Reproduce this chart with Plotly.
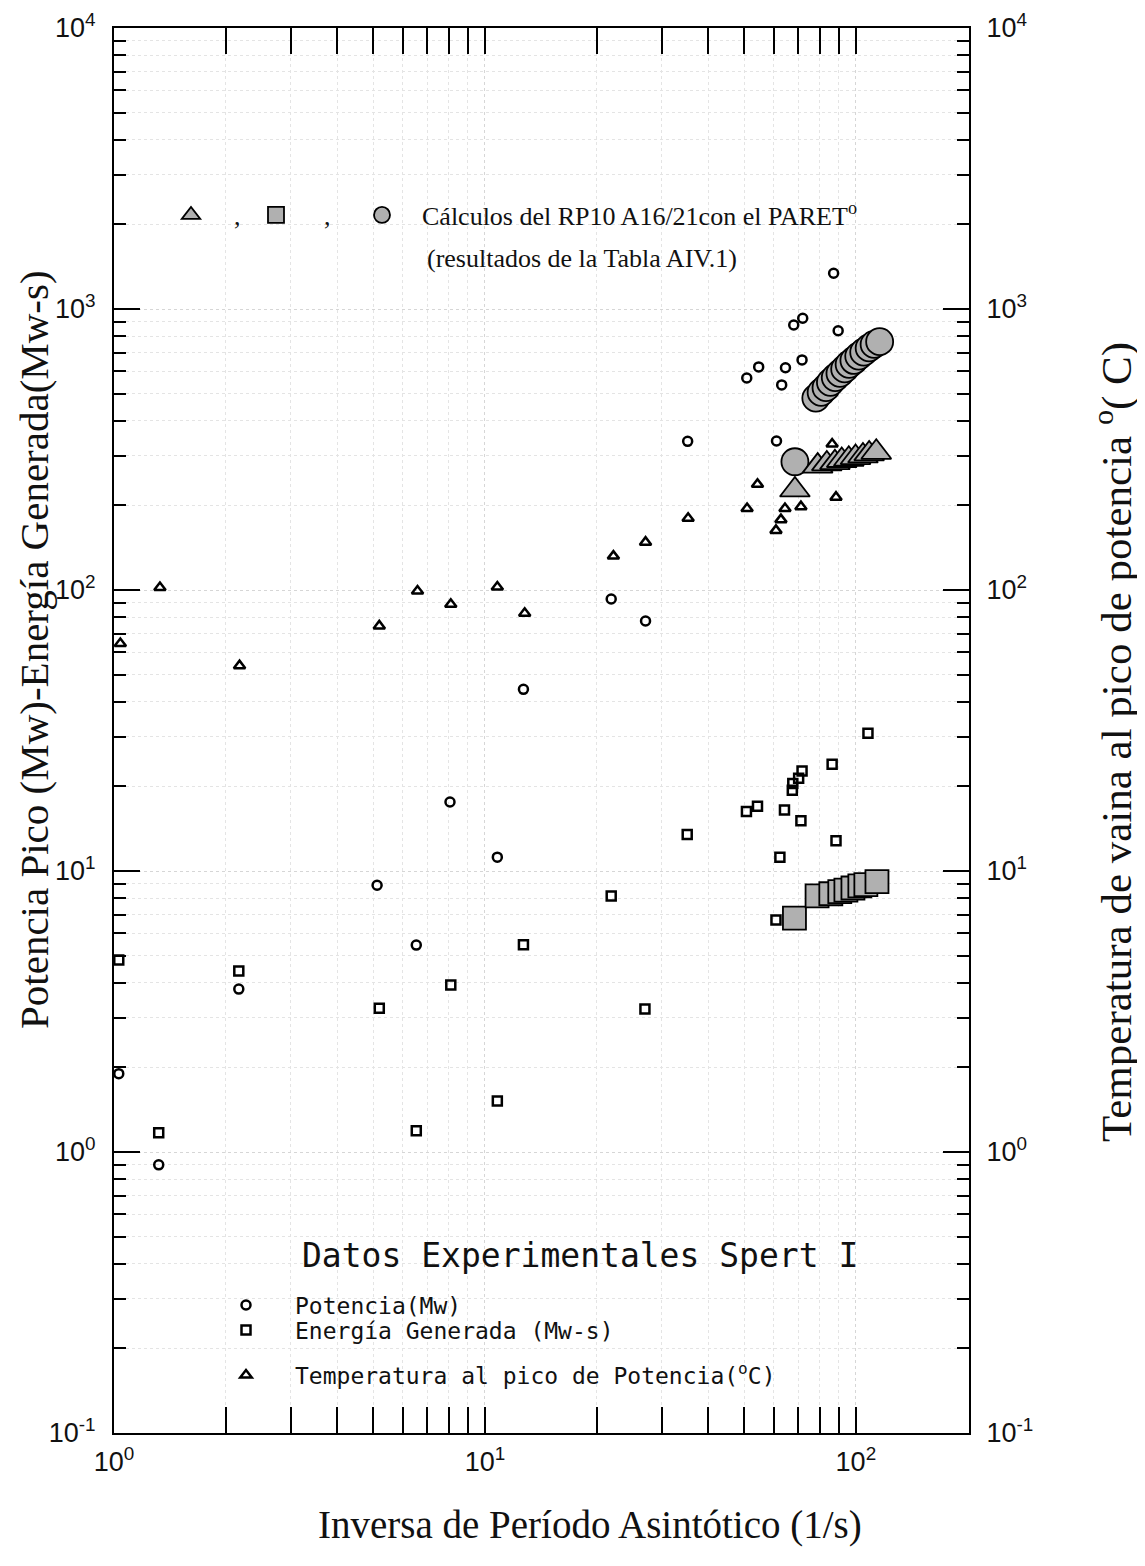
import plotly.graph_objects as go

# %% datos experimentales Spert I
pot_x = [1.03, 1.32, 2.17, 5.12, 6.53, 8.05, 10.8, 12.7, 21.9, 27.1, 35.2,
         50.8, 54.7, 61.1, 63.1, 64.6, 68.0, 71.6, 71.9, 87.1, 89.6]
pot_y = [1.9, 0.9, 3.8, 8.9, 5.45, 17.6, 11.2, 44.3, 92.9, 77.6, 338,
         568, 622, 339, 537, 618, 877, 659, 927, 1340, 837]

ene_x = [1.03, 1.32, 2.17, 5.19, 6.53, 8.09, 10.8, 12.7, 21.9, 27.0, 35.1, 50.7,
         54.3, 60.9, 62.4, 64.2, 67.4, 67.6, 70.1, 71.1, 71.6, 86.3, 88.4, 107.8]
ene_y = [4.82, 1.17, 4.41, 3.25, 1.19, 3.93, 1.52, 5.46, 8.15, 3.23, 13.5, 16.3,
         17.0, 6.69, 11.2, 16.5, 19.4, 20.5, 21.4, 15.1, 22.7, 24.0, 12.8, 30.9]

tem_x = [1.04, 1.33, 2.18, 5.19, 6.58, 8.09, 10.8, 12.8, 22.2, 27.1,
         35.3, 50.9, 54.3, 60.9, 62.8, 64.4, 71.1, 86.3, 88.4]
tem_y = [64.5, 102, 53.8, 74.5, 99.2, 89, 102.5, 82.6, 132, 148,
         180, 195, 238, 163, 178, 195, 198, 331, 214]

# %% calculos RP10 con PARET
par_tri_x = [68.5, 78.9, 83.5, 87.8, 91.6, 95.7, 99.8, 104.5, 108.6, 113.5]
par_tri_y = [227, 276, 281, 284, 289, 292, 296, 300, 305, 309]

par_sq_x = [68.3, 78.6, 85.6, 90.5, 94.0, 98.2, 102.5, 106.4, 114.0]
par_sq_y = [6.8, 8.15, 8.3, 8.45, 8.55, 8.7, 8.85, 8.95, 9.16]

par_ci_x = [68.5, 78.0, 80.6, 83.1, 85.4, 88.0, 90.6, 93.3, 95.9, 98.8,
            101.8, 105.0, 108.6, 112.0, 115.9]
par_ci_y = [286, 482, 505, 525, 548, 570, 590, 612, 635, 656,
            680, 702, 727, 748, 765]

dec_vals = [0.1, 1, 10, 100, 1000, 10000]
dec_text = ["10<sup>-1</sup>", "10<sup>0</sup>", "10<sup>1</sup>",
            "10<sup>2</sup>", "10<sup>3</sup>", "10<sup>4</sup>"]
x_vals = [1, 10, 100]
x_text = ["10<sup>0</sup>", "10<sup>1</sup>", "10<sup>2</sup>"]

minor_y = [m * 10 ** k for k in range(-1, 4) for m in range(2, 10)]
minor_x = [m * 10 ** k for k in range(0, 3) for m in range(2, 10) if m * 10 ** k < 200]

serif = "Liberation Serif, Times New Roman, serif"
sans = "Liberation Sans, Arial, sans-serif"
mono = "DejaVu Sans Mono, Liberation Mono, monospace"
gray = "#b0b0b0"
ink = "#111111"

fig = go.Figure()

# calculados (grandes, relleno gris)
fig.add_trace(go.Scatter(x=par_tri_x, y=par_tri_y, mode="markers", yaxis="y2",
                         name=",", legend="legend", showlegend=True,
                         marker=dict(symbol="triangle-up", size=26, color=gray,
                                     line=dict(color="black", width=1.8))))
fig.add_trace(go.Scatter(x=par_sq_x, y=par_sq_y, mode="markers",
                         name=",", legend="legend2",
                         marker=dict(symbol="square", size=23, color=gray,
                                     line=dict(color="black", width=1.8))))
fig.add_trace(go.Scatter(x=par_ci_x, y=par_ci_y, mode="markers",
                         name="Cálculos del RP10 A16/21con el PARET<sup>o</sup>",
                         legend="legend3",
                         marker=dict(symbol="circle", size=27, color=gray,
                                     line=dict(color="black", width=1.8))))

# experimentales (pequenos, abiertos)
fig.add_trace(go.Scatter(x=pot_x, y=pot_y, mode="markers", name="Potencia(Mw)",
                         legend="legend4",
                         marker=dict(symbol="circle-open", size=9, color="black",
                                     line=dict(color="black", width=2.5))))
fig.add_trace(go.Scatter(x=ene_x, y=ene_y, mode="markers", name="Energía Generada (Mw-s)",
                         legend="legend5",
                         marker=dict(symbol="square-open", size=9, color="black",
                                     line=dict(color="black", width=2.5))))
fig.add_trace(go.Scatter(x=tem_x, y=tem_y, mode="markers", yaxis="y2",
                         name="Temperatura al pico de Potencia(<sup>o</sup>C)",
                         legend="legend6",
                         marker=dict(symbol="triangle-up-open", size=10, color="black",
                                     line=dict(color="black", width=2.5))))

axis_common = dict(
    type="log", showline=True, linewidth=2, linecolor="black", automargin=False,
    ticks="inside", ticklen=26, tickwidth=2, tickcolor="black",
    showgrid=True, gridcolor="#d6d6d6", griddash="dot", gridwidth=1,
    tickfont=dict(family=sans, size=27, color=ink),
    zeroline=False,
)
minor_common = dict(tickmode="array", ticks="inside", ticklen=12, tickwidth=1.5,
                    tickcolor="black", showgrid=True, gridcolor="#e4e4e4", griddash="dot")


def leg(px, py, iw, size, family):
    # una leyenda por entrada, colocada en pixeles del area de trazado
    return dict(x=(px - 114) / 855, y=(1433 - py) / 1405, xanchor="left", yanchor="middle",
                bgcolor="rgba(0,0,0,0)", itemsizing="trace", itemwidth=iw,
                font=dict(family=family, size=size, color=ink))


# la pagina deja 8 px de margen: el area de trazado queda en x 114-969, y 28-1433
fig.update_layout(
    width=1137, height=1558,
    margin=dict(l=106, r=176, t=20, b=133),
    showlegend=True,
    paper_bgcolor="white", plot_bgcolor="white",
    xaxis=dict(axis_common, range=[0, 2.305], tickmode="array", tickvals=x_vals,
               ticktext=x_text, mirror="allticks", ticklabelstandoff=4,
               minor=dict(minor_common, tickvals=minor_x)),
    yaxis=dict(axis_common, range=[-1, 4], tickmode="array", tickvals=dec_vals,
               ticktext=dec_text, ticklabelstandoff=11,
               minor=dict(minor_common, tickvals=minor_y)),
    yaxis2=dict(axis_common, range=[-1, 4], tickmode="array", tickvals=dec_vals,
                ticktext=dec_text, overlaying="y", side="right", showgrid=False,
                ticklabelstandoff=10,
                minor=dict(minor_common, tickvals=minor_y, showgrid=False)),
    legend=leg(148, 215, 76, 26, serif),
    legend2=leg(228, 215, 86, 26, serif),
    legend3=leg(342, 215, 70, 26, serif),
    legend4=leg(197, 1305, 88, 23, mono),
    legend5=leg(197, 1330, 88, 23, mono),
    legend6=leg(197, 1375, 88, 23, mono),
    annotations=[
        dict(text="(resultados de la Tabla AIV.1)", xref="paper", yref="paper",
             x=(425 - 114) / 855, y=(1433 - 258) / 1405, xanchor="left", yanchor="middle",
             showarrow=False, font=dict(family=serif, size=26, color=ink)),
        dict(text="Datos Experimentales Spert I", xref="paper", yref="paper",
             x=(580 - 114) / 855, y=(1433 - 1255) / 1405, xanchor="center",
             yanchor="middle", showarrow=False,
             font=dict(family=mono, size=33, color=ink)),
        dict(text="Potencia Pico (Mw)-Energía Generada(Mw-s)", xref="paper", yref="paper",
             x=(34 - 114) / 855, y=(1433 - 650) / 1405, xanchor="center", yanchor="middle",
             textangle=-90, showarrow=False, font=dict(family=serif, size=41, color=ink)),
        dict(text="Temperatura de vaina al pico de potencia <sup>o</sup>( C)",
             xref="paper", yref="paper", x=(1113 - 114) / 855, y=(1433 - 742) / 1405,
             xanchor="center", yanchor="middle", textangle=-90,
             showarrow=False, font=dict(family=serif, size=43, color=ink)),
        dict(text="Inversa de Período Asintótico (1/s)", xref="paper", yref="paper",
             x=(590 - 114) / 855, y=(1433 - 1525) / 1405, xanchor="center",
             yanchor="middle", showarrow=False,
             font=dict(family=serif, size=39, color=ink)),
    ],
)

fig.write_html("out.html")
